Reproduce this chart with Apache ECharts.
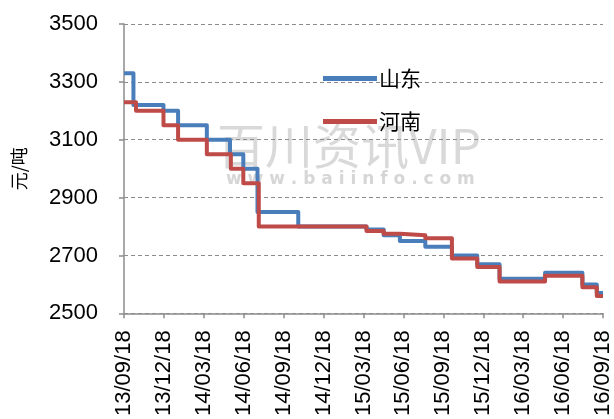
<!DOCTYPE html>
<html>
<head>
<meta charset="utf-8">
<script src="https://cdn.jsdelivr.net/npm/echarts@6/dist/echarts.min.js"></script>
<style>
html,body{margin:0;padding:0;background:#fff;}
#c{width:614px;height:419px;}
</style>
</head>
<body>
<div id="c"></div>
<script>
// Tick labels (every 3 months)
var tickLabels = ['13/09/18','13/12/18','14/03/18','14/06/18','14/09/18','14/12/18','15/03/18','15/06/18','15/09/18','15/12/18','16/03/18','16/06/18','16/09/18'];
// 山东: price change dates and values (step held until next date)
var sdDates = ['2013-09-18','2013-10-09','2013-12-17','2014-01-20','2014-03-25','2014-05-17','2014-06-17','2014-07-19','2014-10-21','2015-03-25','2015-05-03','2015-06-10','2015-08-07','2015-10-07','2015-12-04','2016-01-25','2016-05-07','2016-08-01','2016-09-04','2016-09-18'];
var sdValues = [3330,3220,3200,3150,3100,3050,3000,2850,2800,2790,2770,2750,2730,2700,2670,2620,2640,2600,2570,2570];
// 河南
var hnDates = ['2013-09-18','2013-10-15','2013-12-17','2014-01-20','2014-03-25','2014-05-19','2014-06-17','2014-07-22','2015-03-25','2015-05-03','2015-06-10','2015-08-07','2015-10-07','2015-12-04','2016-01-25','2016-05-07','2016-08-01','2016-09-04','2016-09-18'];
var hnValues = [3230,3200,3150,3100,3050,3000,2950,2800,2785,2775,2770,2760,2690,2660,2610,2630,2590,2560,2560];

// convert a date to months elapsed since 2013-09-18
function monthsFromStart(s){
  var p = s.split('-').map(Number);
  var y=p[0], m=p[1], d=p[2];
  var dim = new Date(Date.UTC(y, m, 0)).getUTCDate();
  return (y-2013)*12 + (m-9) + (d-18)/dim;
}
function build(dates, vals){
  return dates.map(function(d,i){ return [monthsFromStart(d), vals[i]]; });
}

var chart = echarts.init(document.getElementById('c'), null, {renderer:'canvas'});
var axisColor = '#8c8c8c';
var labelFont = 'Liberation Sans, Arial, sans-serif';
chart.setOption({
  animation:false,
  backgroundColor:'#fff',
  grid:{left:124, right:11, top:24, bottom:105, containLabel:false},
  legend:{
    orient:'vertical', left:318, top:63, itemGap:22,
    icon:'rect', itemWidth:54, itemHeight:5,
    textStyle:{fontSize:21, color:'#000', fontFamily:'Noto Sans CJK SC', padding:[0,0,0,-3]},
    data:['山东','河南']
  },
  graphic:[
    {type:'text', left:217, top:122, z:0, silent:true,
     style:{text:'百川资讯VIP', fontSize:48, fontFamily:'Noto Sans CJK SC', fill:'rgba(180,180,180,0.5)'}},
    {type:'text', left:226, top:171, z:0, silent:true,
     style:{text:'w w w . b a i i n f o . c o m', fontSize:17, fontWeight:'bold', fontFamily:'DejaVu Sans', fill:'rgba(180,180,180,0.55)'}}
  ],
  xAxis:{
    type:'value', min:0, max:36, interval:3,
    axisLine:{show:true, lineStyle:{color:axisColor, width:1.5}},
    axisTick:{show:true, length:5, lineStyle:{color:axisColor, width:1.5}},
    splitLine:{show:false},
    axisLabel:{rotate:90, fontSize:22, color:'#000', fontFamily:labelFont, margin:17,
      formatter:function(v){ var i=Math.round(v/3); return tickLabels[i]||''; }}
  },
  yAxis:{
    type:'value', min:2500, max:3500, interval:200,
    name:'元/吨', nameLocation:'middle', nameRotate:90, nameGap:96,
    nameTextStyle:{fontSize:18, color:'#000', fontFamily:'Noto Sans CJK SC'},
    axisLine:{show:true, lineStyle:{color:axisColor, width:1.5}},
    axisTick:{show:true, length:5, lineStyle:{color:axisColor, width:1.5}},
    splitLine:{show:true, lineStyle:{color:'#8c8c8c', type:[4,3], width:1}},
    axisLabel:{fontSize:22, color:'#000', fontFamily:labelFont, margin:26,
      formatter:function(v){ return String(v); }}
  },
  series:[
    {name:'山东', type:'line', step:'end', showSymbol:false, data:build(sdDates, sdValues),
     lineStyle:{color:'#4a7ebb', width:4, join:'round'}, itemStyle:{color:'#4a7ebb'}},
    {name:'河南', type:'line', step:'end', showSymbol:false, data:build(hnDates, hnValues),
     lineStyle:{color:'#be4b48', width:4, join:'round'}, itemStyle:{color:'#be4b48'}}
  ]
});
</script>
</body>
</html>
